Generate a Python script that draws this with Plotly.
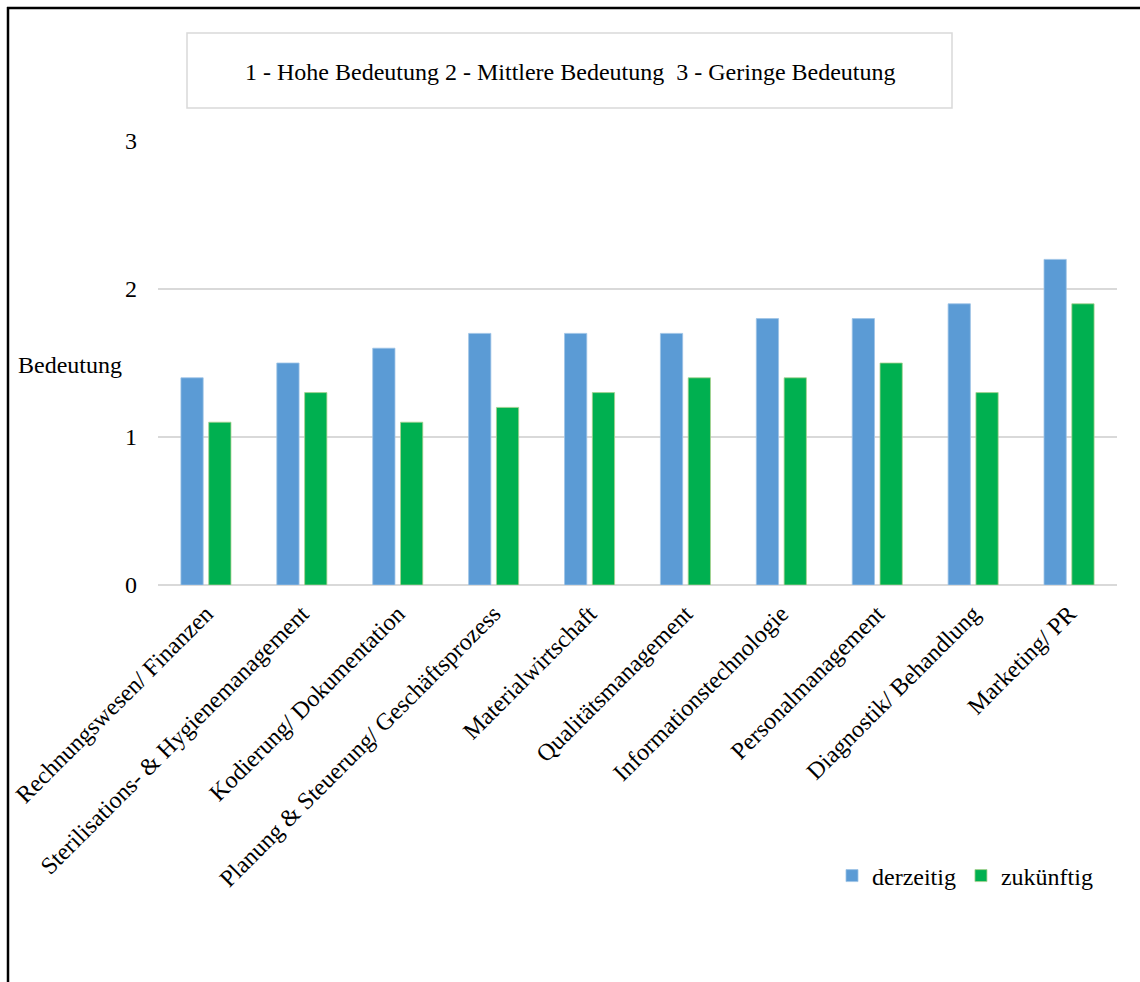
import plotly.graph_objects as go

categories = ["Rechnungswesen/ Finanzen", "Sterilisations- & Hygienemanagement",
              "Kodierung/ Dokumentation", "Planung & Steuerung/ Geschäftsprozess",
              "Materialwirtschaft", "Qualitätsmanagement", "Informationstechnologie",
              "Personalmanagement", "Diagnostik/ Behandlung", "Marketing/ PR"]
derzeitig = [1.4, 1.5, 1.6, 1.7, 1.7, 1.7, 1.8, 1.8, 1.9, 2.2]
zukuenftig = [1.1, 1.3, 1.1, 1.2, 1.3, 1.4, 1.4, 1.5, 1.3, 1.9]
y_ticks = [0, 1, 2, 3]

FONT = "Liberation Serif"
FS = 24
W, H = 1140, 982
L, R, T, B = 158, 23, 141, 397
pw, ph = W - L - R, H - T - B

def px_x(x):
    return (x - L) / pw

def px_y(y):
    return (H - B - y) / ph

fig = go.Figure()
fig.add_bar(x=categories, y=derzeitig, name="derzeitig",
            marker=dict(color="#5B9BD5", line=dict(color="#9DC3E6", width=0.8)))
fig.add_bar(x=categories, y=zukuenftig, name="zukünftig",
            marker=dict(color="#00B050", line=dict(color="#A9D18E", width=0.8)))

fig.update_layout(
    width=W, height=H,
    margin=dict(l=L, r=R, t=T, b=B),
    paper_bgcolor="white", plot_bgcolor="white",
    font=dict(family=FONT, size=FS, color="black"),
    barmode="group", bargap=0.42, bargroupgap=0.2,
    showlegend=True,
    legend=dict(orientation="h", x=px_x(832), y=px_y(876), xanchor="left", yanchor="middle",
                font=dict(family=FONT, size=FS, color="black"), itemwidth=30,
                bgcolor="rgba(0,0,0,0)"),
    xaxis=dict(tickangle=-45, showgrid=False, showline=False, ticks="",
               ticklabelstandoff=9, tickfont=dict(family=FONT, size=FS, color="black")),
    yaxis=dict(range=[0, 3], tickvals=y_ticks, showgrid=True, gridcolor="#D9D9D9", gridwidth=1.5,
               zeroline=True, zerolinecolor="#D9D9D9", zerolinewidth=1.5,
               showline=False, ticks="", ticklabelstandoff=20,
               tickfont=dict(family=FONT, size=FS, color="black")),
    shapes=[
        dict(type="line", xref="paper", yref="paper", x0=px_x(8), x1=px_x(8),
             y0=px_y(7), y1=px_y(990), line=dict(color="black", width=2.5)),
        dict(type="line", xref="paper", yref="paper", x0=px_x(7), x1=px_x(1150),
             y0=px_y(8), y1=px_y(8), line=dict(color="black", width=2.5)),
        dict(type="rect", xref="paper", yref="paper", x0=px_x(187), x1=px_x(952),
             y0=px_y(108), y1=px_y(33), line=dict(color="#D9D9D9", width=1.5)),
    ],
    annotations=[
        dict(text="1 - Hohe Bedeutung 2 - Mittlere Bedeutung  3 - Geringe Bedeutung",
             xref="paper", yref="paper", x=px_x(570), y=px_y(72), showarrow=False,
             xanchor="center", yanchor="middle",
             font=dict(family=FONT, size=FS, color="black")),
        dict(text="Bedeutung", xref="paper", yref="paper", x=px_x(16), y=px_y(365),
             showarrow=False, xanchor="left", yanchor="middle",
             font=dict(family=FONT, size=FS, color="black")),
    ],
)

fig.write_html("out.html")
